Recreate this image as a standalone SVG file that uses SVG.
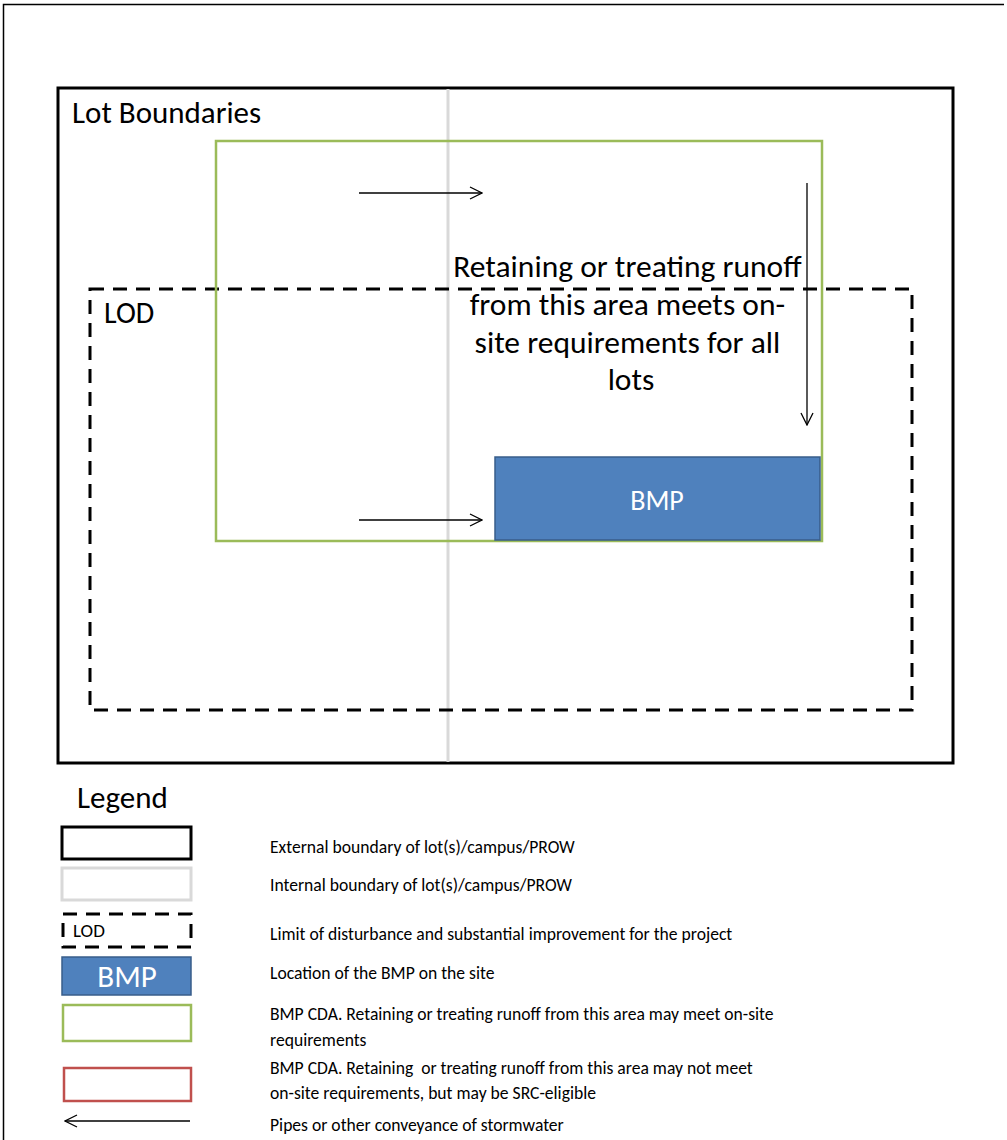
<svg xmlns="http://www.w3.org/2000/svg" width="1007" height="1140" viewBox="0 0 1007 1140">
<style>
text{font-family:Carlito,Lato,"Liberation Sans",sans-serif;fill:#000}
.blk{fill:none;stroke:#000;stroke-width:3}
.gry{fill:none;stroke:#D9D9D9;stroke-width:3}
.lod{fill:none;stroke:#000;stroke-width:3;stroke-dasharray:14 9}
.grn{fill:none;stroke:#9BBB59;stroke-width:2.5}
.red{fill:none;stroke:#C0504D;stroke-width:2.5}
.bmp{fill:#4F81BD;stroke:#385D8A;stroke-width:1.5}
.arr{fill:none;stroke:#000;stroke-width:1.3;marker-end:url(#ah)}
.leg{font-size:17.6px}
</style>
<defs>
<marker id="ah" viewBox="0 0 14 14" refX="13" refY="7" markerWidth="14" markerHeight="14" markerUnits="userSpaceOnUse" orient="auto">
<path d="M1,1 L13,7 L1,13" fill="none" stroke="#000" stroke-width="1.3"/>
</marker>
</defs>
<rect width="1007" height="1140" fill="#fff"/>
<path d="M3.5,1140 V4.5 H1004" fill="none" stroke="#000" stroke-width="1.5"/>

<g id="lot-boundaries">
<rect class="blk" x="58" y="88" width="895" height="675"/>
<text x="72" y="123" font-size="31">Lot Boundaries</text>
</g>
<g id="internal-boundary">
<line class="gry" x1="448" y1="89" x2="448" y2="762"/>
</g>
<g id="lod">
<rect class="lod" x="90" y="289" width="822" height="421"/>
<text x="104" y="323" font-size="30">LOD</text>
</g>
<g id="cda">
<rect class="grn" x="216" y="141" width="606" height="400"/>
<text font-size="31.5" text-anchor="middle">
<tspan x="631" y="277">Retaining or treating runoff</tspan>
<tspan x="631" y="315">from this area meets on-</tspan>
<tspan x="631" y="353">site requirements for all</tspan>
<tspan x="631" y="390">lots</tspan>
</text>
</g>
<g id="bmp">
<rect class="bmp" x="495" y="457" width="325" height="83"/>
<text x="657" y="510" font-size="28" text-anchor="middle" style="fill:#fff">BMP</text>
</g>

<g id="connectors">
<line class="arr" x1="359" y1="193" x2="482" y2="193"/>
<line class="arr" x1="359" y1="520" x2="482" y2="520"/>
<line class="arr" x1="807" y1="183" x2="807" y2="425"/>
</g>

<g id="legend">
<text x="77" y="808" font-size="31">Legend</text>
<rect class="blk" x="62" y="827" width="129" height="32"/>
<rect class="gry" x="62" y="868" width="129" height="32"/>
<rect class="lod" x="63" y="914" width="128" height="33"/>
<text x="73" y="937" font-size="19">LOD</text>
<rect class="bmp" x="62" y="957" width="129" height="38"/>
<text x="127" y="987" font-size="31" text-anchor="middle" style="fill:#fff">BMP</text>
<rect class="grn" x="63" y="1005" width="128" height="36"/>
<rect class="red" x="64" y="1068" width="127" height="33"/>
<line class="arr" x1="190" y1="1121" x2="65" y2="1121"/>
<text class="leg" x="270" y="853">External boundary of lot(s)/campus/PROW</text>
<text class="leg" x="270" y="891">Internal boundary of lot(s)/campus/PROW</text>
<text class="leg" x="270" y="940">Limit of disturbance and substantial improvement for the project</text>
<text class="leg" x="270" y="979">Location of the BMP on the site</text>
<text class="leg" x="270" y="1020">BMP CDA. Retaining or treating runoff from this area may meet on-site</text>
<text class="leg" x="270" y="1046">requirements</text>
<text class="leg" x="270" y="1074" xml:space="preserve">BMP CDA. Retaining  or treating runoff from this area may not meet</text>
<text class="leg" x="270" y="1099">on-site requirements, but may be SRC-eligible</text>
<text class="leg" x="270" y="1131">Pipes or other conveyance of stormwater</text>
</g>
</svg>
